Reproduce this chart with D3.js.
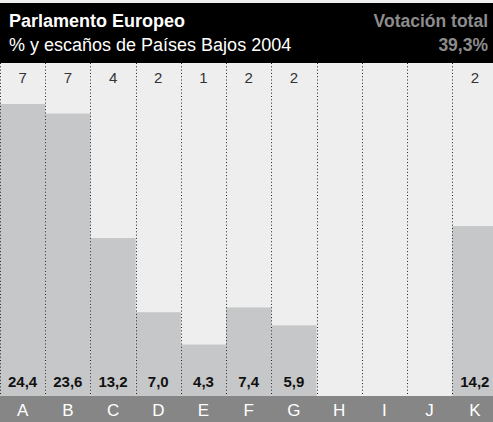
<!DOCTYPE html>
<html>
<head>
<meta charset="utf-8">
<script src="https://cdn.jsdelivr.net/npm/d3@7"></script>
<style>
  html, body { margin: 0; padding: 0; background: #edeeed; overflow: hidden; }
  svg { display: block; font-family: Helvetica, Arial, "Liberation Sans", sans-serif; }
</style>
</head>
<body>
<div id="chart"></div>
<script>
// datos
const partidos = ["A", "B", "C", "D", "E", "F", "G", "H", "I", "J", "K"];
const porcentajes = [24.4, 23.6, 13.2, 7.0, 4.3, 7.4, 5.9, null, null, null, 14.2];
const escanos = [7, 7, 4, 2, 1, 2, 2, null, null, null, 2];
const titulo = "Parlamento Europeo";
const subtitulo = "% y escaños de Países Bajos 2004";
const votacionLabel = "Votación total";
const votacionTotal = "39,3%";

const width = 493, height = 422;
const headerTop = 3, headerBottom = 63;
const baseY = 396;
const colW = 45.22;

const svg = d3.select("#chart").append("svg")
    .attr("width", width)
    .attr("height", height);

// fondo
svg.append("rect")
    .attr("width", width).attr("height", height)
    .attr("fill", "#edeeed");

const x = d3.scaleBand()
    .domain(partidos)
    .range([0, colW * partidos.length])
    .padding(0);

const y = d3.scaleLinear()
    .domain([0, 24.4])
    .range([baseY, 104]);

const fmt = v => d3.format(".1f")(v).replace(".", ",");

// barras
svg.append("g")
    .selectAll("rect")
    .data(partidos.filter((p, i) => porcentajes[i] != null))
    .enter().append("rect")
    .attr("x", d => x(d))
    .attr("width", x.bandwidth())
    .attr("y", d => y(porcentajes[partidos.indexOf(d)]))
    .attr("height", d => baseY - y(porcentajes[partidos.indexOf(d)]))
    .attr("fill", "#c6c7c8");

// lineas punteadas
svg.append("g")
    .selectAll("line")
    .data(partidos)
    .enter().append("line")
    .attr("x1", d => Math.round(x(d)) + 0.5)
    .attr("x2", d => Math.round(x(d)) + 0.5)
    .attr("y1", headerBottom)
    .attr("y2", baseY - 1)
    .attr("stroke", "#222")
    .attr("stroke-width", 1)
    .attr("stroke-dasharray", "1,2.3");

// escaños
svg.append("g")
    .selectAll("text")
    .data(partidos.filter((p, i) => escanos[i] != null))
    .enter().append("text")
    .attr("x", d => x(d) + x.bandwidth() / 2)
    .attr("y", 83)
    .attr("text-anchor", "middle")
    .attr("font-size", 15)
    .attr("fill", "#333")
    .text(d => escanos[partidos.indexOf(d)]);

// porcentajes
svg.append("g")
    .selectAll("text")
    .data(partidos.filter((p, i) => porcentajes[i] != null))
    .enter().append("text")
    .attr("x", d => x(d) + x.bandwidth() / 2)
    .attr("y", 387)
    .attr("text-anchor", "middle")
    .attr("font-size", 15)
    .attr("font-weight", "bold")
    .attr("fill", "#111")
    .text(d => fmt(porcentajes[partidos.indexOf(d)]));

// banda inferior
svg.append("rect")
    .attr("x", 0).attr("y", baseY)
    .attr("width", width).attr("height", height - baseY)
    .attr("fill", "#868686");

svg.append("g")
    .selectAll("text")
    .data(partidos)
    .enter().append("text")
    .attr("x", d => x(d) + x.bandwidth() / 2)
    .attr("y", 416)
    .attr("text-anchor", "middle")
    .attr("font-size", 17)
    .attr("fill", "#fff")
    .text(d => d);

// cabecera
svg.append("rect")
    .attr("x", 0).attr("y", headerTop)
    .attr("width", width).attr("height", headerBottom - headerTop)
    .attr("fill", "#000");

svg.append("text")
    .attr("x", 9).attr("y", 27)
    .attr("font-size", 18)
    .attr("font-weight", "bold")
    .attr("fill", "#fff")
    .text(titulo);

svg.append("text")
    .attr("x", 9).attr("y", 51)
    .attr("font-size", 18)
    .attr("fill", "#fff")
    .text(subtitulo);

svg.append("text")
    .attr("x", 488).attr("y", 27)
    .attr("text-anchor", "end")
    .attr("font-size", 17.5)
    .attr("font-weight", "bold")
    .attr("fill", "#8c8c8c")
    .text(votacionLabel);

svg.append("text")
    .attr("x", 488).attr("y", 51)
    .attr("text-anchor", "end")
    .attr("font-size", 17.5)
    .attr("font-weight", "bold")
    .attr("fill", "#8c8c8c")
    .text(votacionTotal);
</script>
</body>
</html>
